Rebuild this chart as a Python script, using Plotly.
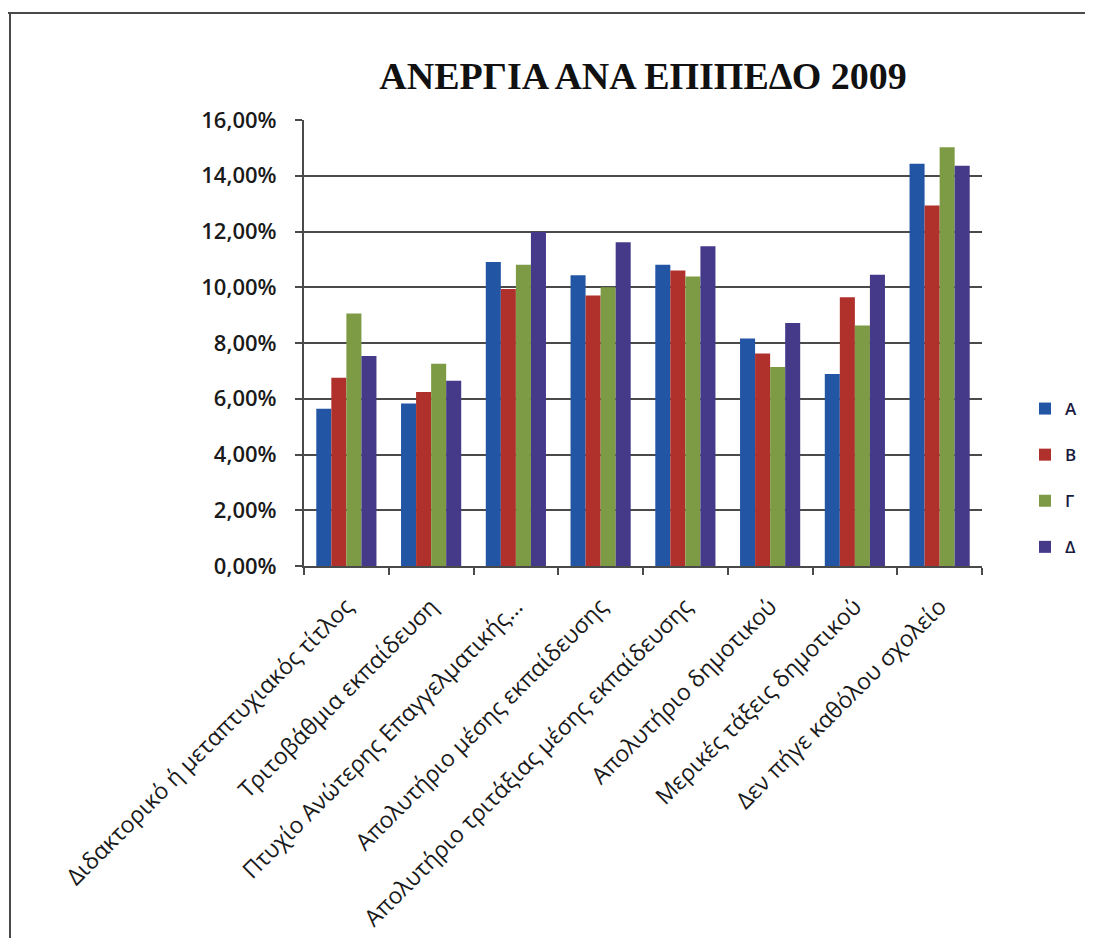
import plotly.graph_objects as go

# education levels (x categories)
categories = [
    "Διδακτορικό ή μεταπτυχιακός τίτλος",
    "Τριτοβάθμια εκπαίδευση",
    "Πτυχίο Ανώτερης Επαγγελματικής...",
    "Απολυτήριο μέσης εκπαίδευσης",
    "Απολυτήριο τριτάξιας μέσης εκπαίδευσης",
    "Απολυτήριο δημοτικού",
    "Μερικές τάξεις δημοτικού",
    "Δεν πήγε καθόλου σχολείο",
]

# unemployment share per series (fractions)
A = [0.0564, 0.0583, 0.1091, 0.1043, 0.1081, 0.0816, 0.0689, 0.1443]
B = [0.0675, 0.0624, 0.0994, 0.0970, 0.1060, 0.0762, 0.0964, 0.1293]
G = [0.0906, 0.0726, 0.1081, 0.1000, 0.1039, 0.0714, 0.0863, 0.1502]
D = [0.0753, 0.0665, 0.1198, 0.1161, 0.1147, 0.0872, 0.1045, 0.1436]

series_names = ["Α", "Β", "Γ", "Δ"]
series_vals = [A, B, G, D]
colors = ["#2355a5", "#b0302b", "#7d9b45", "#45398a"]

# page has 8px body margin, so plot box is shifted by that
OFF = 8
W, H = 1093, 938
L, R, T, B_ = 304 - OFF, 111 + OFF, 120 - OFF, 372 + OFF
pw = W - L - R
ph = H - T - B_

fig = go.Figure()
for name, vals, col in zip(series_names, series_vals, colors):
    fig.add_trace(go.Bar(x=categories, y=vals, name=name, marker_color=col,
                         marker_line_width=0, legendgroup=name))

# screen pixel -> paper coords
def px_x(p):
    return (p - OFF - L) / pw

def px_y(p):
    return (H - B_ - (p - OFF)) / ph

fig.update_layout(
    width=W, height=H,
    margin=dict(l=L, r=R, t=T, b=B_),
    paper_bgcolor="white", plot_bgcolor="white",
    separators=",.",
    barmode="group", bargap=0.29, bargroupgap=0,
    title=dict(text="<b>ΑΝΕΡΓΙΑ ΑΝΑ ΕΠΙΠΕΔΟ 2009</b>", x=(643 - OFF) / W, xanchor="center",
               y=1 - (76 - OFF) / H, yanchor="middle",
               font=dict(family="Liberation Serif", size=38, color="#111")),
    legend=dict(x=px_x(1025), y=px_y(391), xanchor="left", yanchor="top",
                tracegroupgap=21, itemwidth=30,
                font=dict(family="Open Sans", size=17, color="#1a1a40", weight=600)),
    showlegend=True,
)

fig.update_yaxes(range=[0, 0.16], dtick=0.02, tickformat=".2%", automargin=False,
                 showgrid=True, gridcolor="#4a4a4a", gridwidth=2,
                 showline=True, linecolor="#4a4a4a", linewidth=2,
                 ticks="outside", ticklen=7, tickcolor="#4a4a4a", tickwidth=2,
                 ticklabelstandoff=14, zeroline=False,
                 tickfont=dict(family="Open Sans", size=22, color="#1a1a1a", weight=600))
fig.update_xaxes(showline=True, linecolor="#4a4a4a", linewidth=2, automargin=False,
                 ticks="outside", tickson="boundaries", ticklen=7, tickcolor="#4a4a4a", tickwidth=2,
                 tickangle=-45, ticklabelstandoff=16,
                 tickfont=dict(family="Open Sans", size=23, color="#1a1a1a"))

# scanned frame around the chart
fig.add_shape(type="line", xref="paper", yref="paper",
              x0=px_x(5), x1=px_x(W + 20), y0=px_y(13), y1=px_y(13),
              line=dict(color="#4a4a4a", width=2))
fig.add_shape(type="line", xref="paper", yref="paper",
              x0=px_x(10), x1=px_x(10), y0=px_y(13), y1=px_y(H + 20),
              line=dict(color="#4a4a4a", width=2))

fig.write_html("out.html")
